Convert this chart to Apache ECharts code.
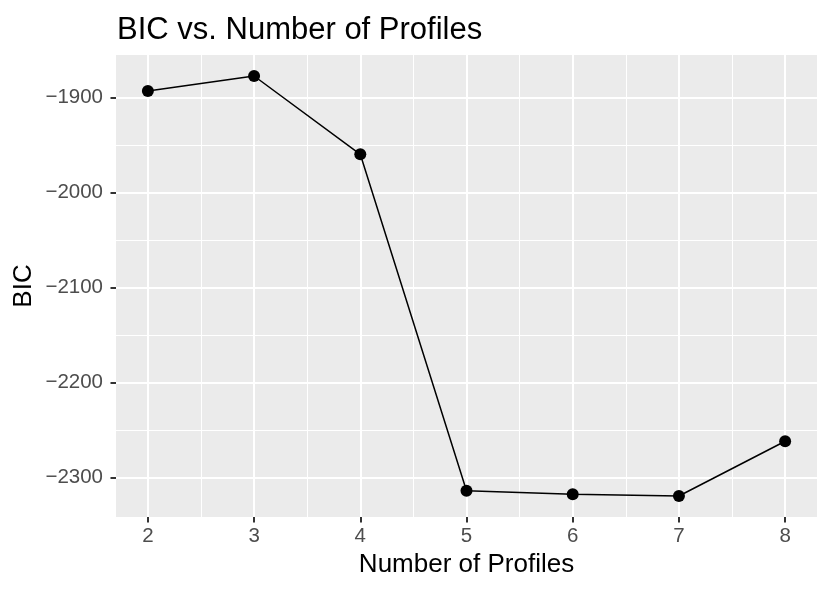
<!DOCTYPE html>
<html>
<head>
<meta charset="utf-8">
<script src="https://cdn.jsdelivr.net/npm/echarts@6/dist/echarts.min.js"></script>
<style>
html,body{margin:0;padding:0;background:#fff;}
#chart{width:830px;height:593px;}
</style>
</head>
<body>
<div id="chart"></div>
<script>
// Data
const profiles = [2, 3, 4, 5, 6, 7, 8];
const bicValues = [-1893.3, -1877.6, -1960.0, -2314.1, -2317.9, -2319.7, -2262.1];
const xTicks = [2, 3, 4, 5, 6, 7, 8];
const xMinorTicks = [2.5, 3.5, 4.5, 5.5, 6.5, 7.5];
const yTicks = [-2300, -2200, -2100, -2000, -1900];
const yMinorTicks = [-2250, -2150, -2050, -1950];

// ggplot-style 5% expansion
const xPad = (Math.max(...profiles) - Math.min(...profiles)) * 0.05;
const yPad = (Math.max(...bicValues) - Math.min(...bicValues)) * 0.05;
const xMin = Math.min(...profiles) - xPad, xMax = Math.max(...profiles) + xPad;
const yMin = Math.min(...bicValues) - yPad, yMax = Math.max(...bicValues) + yPad;

const FONT = 'Liberation Sans';
const minorAxis = (vals) => ({
  show: true,
  axisLine: {show: false},
  axisTick: {show: false, customValues: vals},
  axisLabel: {show: false, customValues: vals},
  splitLine: {show: true, lineStyle: {color: '#ffffff', width: 1}}
});

const chart = echarts.init(document.getElementById('chart'), null, {renderer: 'canvas'});
chart.setOption({
  backgroundColor: '#ffffff',
  animation: false,
  title: {
    text: 'BIC vs. Number of Profiles',
    left: 112,
    top: 10,
    textStyle: {fontFamily: FONT, fontSize: 31, fontWeight: 'normal', color: '#000000'}
  },
  grid: {
    left: 116, top: 55, width: 701, height: 462,
    show: true, backgroundColor: '#EBEBEB', borderWidth: 0
  },
  xAxis: [
    {
      type: 'value', min: xMin, max: xMax,
      name: 'Number of Profiles', nameLocation: 'middle', nameGap: 35, nameMoveOverlap: false,
      nameTextStyle: {fontFamily: FONT, fontSize: 26, color: '#000000'},
      axisLine: {show: false},
      axisTick: {show: true, length: 5.5, customValues: xTicks, lineStyle: {color: '#333333', width: 2}},
      axisLabel: {show: true, margin: 9, customValues: xTicks, fontFamily: FONT, fontSize: 20.5, color: '#4D4D4D'},
      splitLine: {show: true, lineStyle: {color: '#ffffff', width: 2}}
    },
    Object.assign({type: 'value', min: xMin, max: xMax, position: 'top'}, minorAxis(xMinorTicks))
  ],
  yAxis: [
    {
      type: 'value', min: yMin, max: yMax,
      name: 'BIC', nameLocation: 'middle', nameGap: 79, nameMoveOverlap: false,
      nameTextStyle: {fontFamily: FONT, fontSize: 26, color: '#000000'},
      axisLine: {show: false},
      axisTick: {show: true, length: 5.5, customValues: yTicks, lineStyle: {color: '#333333', width: 2}},
      axisLabel: {show: true, margin: 13, customValues: yTicks, fontFamily: FONT, fontSize: 20.5, color: '#4D4D4D',
        formatter: v => (v < 0 ? '\u2212' + Math.abs(v) : String(v))},
      splitLine: {show: true, lineStyle: {color: '#ffffff', width: 2}}
    },
    Object.assign({type: 'value', min: yMin, max: yMax, position: 'right'}, minorAxis(yMinorTicks))
  ],
  series: [{
    type: 'line',
    xAxisIndex: 0, yAxisIndex: 0,
    data: profiles.map((p, i) => [p, bicValues[i]]),
    symbol: 'circle', symbolSize: 12,
    lineStyle: {color: '#000000', width: 1.5},
    itemStyle: {color: '#000000'},
    z: 10
  }]
});
</script>
</body>
</html>
